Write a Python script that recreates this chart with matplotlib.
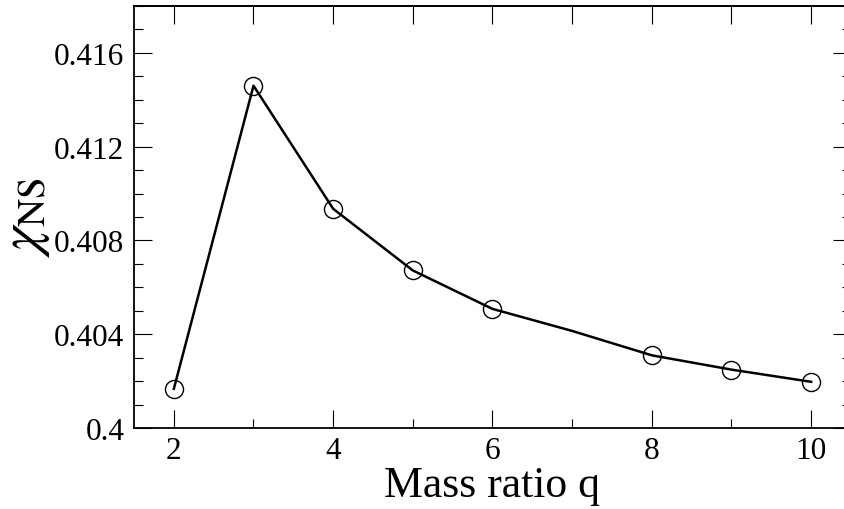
import numpy as np
import matplotlib
matplotlib.use('Agg')
import matplotlib.pyplot as plt
from matplotlib.ticker import MultipleLocator, FuncFormatter

# values (q=7 is a line vertex with no marker)
q = [2, 3, 4, 5, 6, 7, 8, 9, 10]
chi = [0.40167, 0.41460, 0.40935, 0.40672, 0.40508, 0.40414, 0.40310, 0.40249, 0.40197]
marked = [0, 1, 2, 3, 4, 6, 7, 8]

plt.rcParams['font.family'] = 'Liberation Serif'
plt.rcParams['mathtext.fontset'] = 'stix'

fig = plt.figure(figsize=(8.45, 5.10), dpi=100)
ax = fig.add_axes([134/845, 1-429/510, (851-134)/845, (429-7)/510])

ax.plot(q, chi, color='black', lw=1.8, marker='o', markevery=marked,
        ms=13, mfc='none', mec='black', mew=1.0)

ax.set_xlim(1.5, 10.5)
ax.set_ylim(0.4, 0.418)

ax.xaxis.set_major_locator(MultipleLocator(2))
ax.xaxis.set_minor_locator(MultipleLocator(1))
ax.yaxis.set_major_locator(MultipleLocator(0.004))
ax.yaxis.set_minor_locator(MultipleLocator(0.001))
ax.yaxis.set_major_formatter(FuncFormatter(lambda v, p: '%g' % round(v, 6)))

ax.tick_params(which='both', direction='in', left=True, right=True, bottom=True, top=False,
               width=0.8, labelsize=22.5)
ax.tick_params(axis='y', pad=7)
ax.tick_params(axis='x', pad=6)
ax.tick_params(which='major', length=13)
ax.tick_params(which='minor', length=6.5)

# top axis: every integer tick drawn full length
top = ax.secondary_xaxis('top')
top.set_xticks(q)
top.tick_params(direction='in', length=13, width=0.8, labeltop=False)
top.spines['top'].set_linewidth(1.3)

for s in ax.spines.values():
    s.set_linewidth(1.3)

ax.set_xlabel('Mass ratio q', fontsize=31.5, labelpad=0)
ax.set_ylabel(r'$\chi_{\mathrm{NS}}$', fontsize=40)
ax.yaxis.set_label_coords(-0.115, 0.5)

fig.savefig('out.png', dpi=100)
